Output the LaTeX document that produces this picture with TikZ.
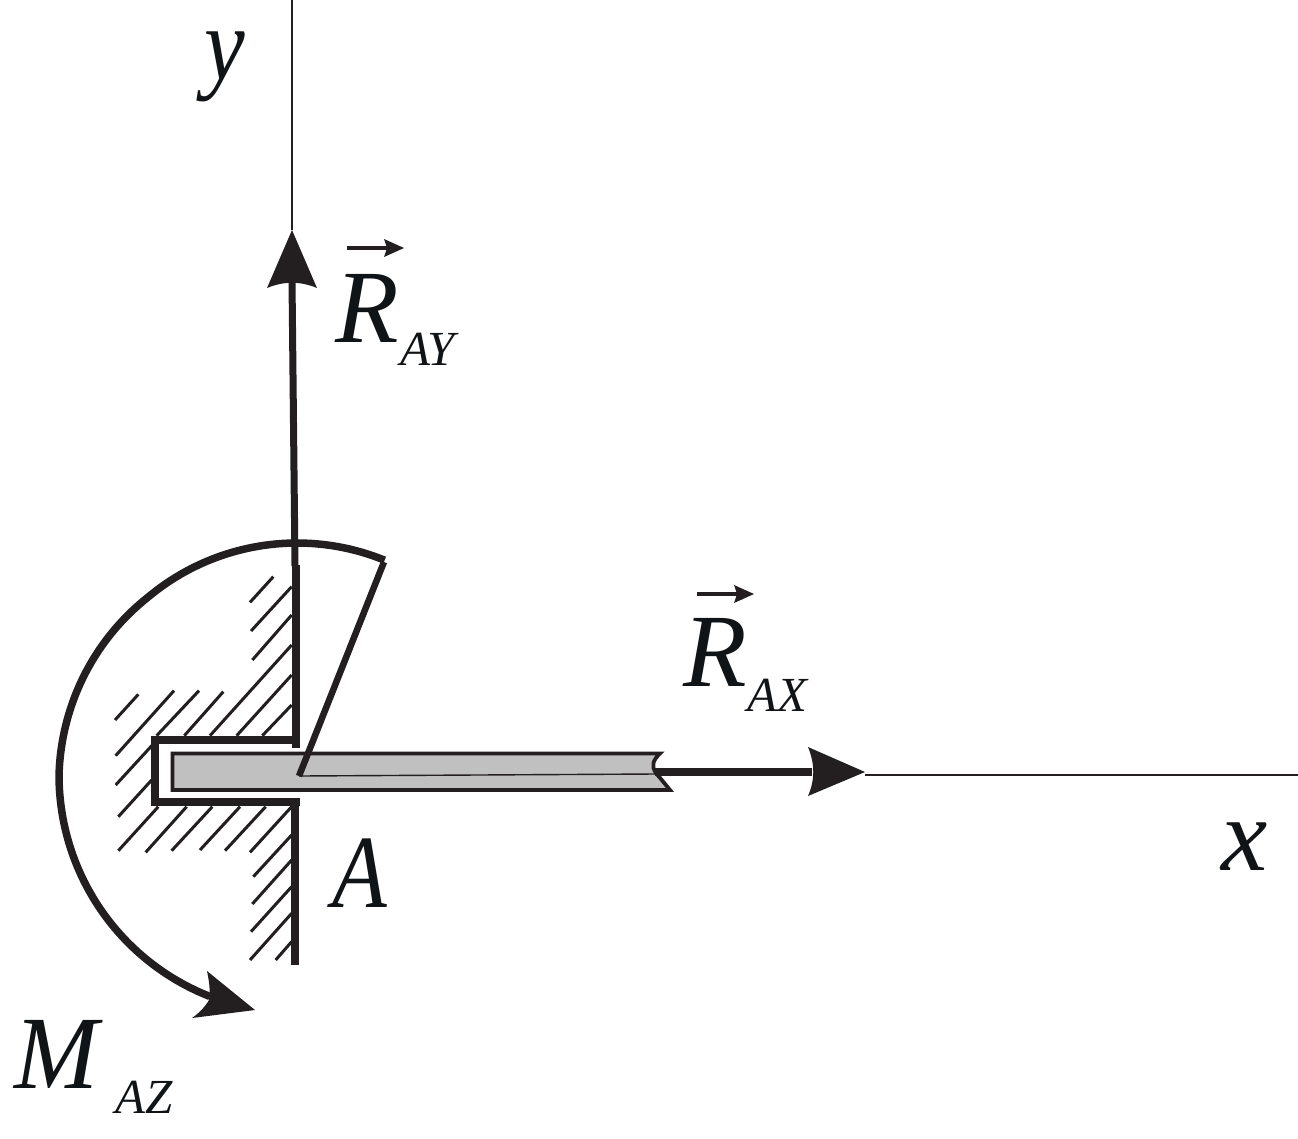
\documentclass[tikz,border=0pt]{standalone}
\usepackage{fontspec}
\setmainfont{Liberation Serif}
\definecolor{ink}{HTML}{231F20}
\definecolor{txt}{HTML}{111416}
\definecolor{barfill}{HTML}{C0C0C0}
\tikzset{
  thinaxis/.style={draw=ink,line width=1.2pt},
  heavy/.style={draw=ink,line width=7pt},
  hatchline/.style={draw=ink,line width=3pt},
  tipfill/.style={fill=ink,draw=none},
  big/.style={inner sep=0pt,anchor=base west,text=txt,font=\fontsize{104}{104}\selectfont\itshape},
  small/.style={inner sep=0pt,anchor=base west,text=txt,font=\fontsize{49}{49}\selectfont\itshape},
}
\begin{document}
\begin{tikzpicture}[x=1pt,y=-1pt]
\useasboundingbox (0,0) rectangle (1298,1138);
\fill[white] (0,0) rectangle (1298,1138);
% coordinates
\coordinate (ytop) at (292,0);
\coordinate (ytip) at (292,230);
\coordinate (ybase) at (292,280);
\coordinate (yfoot) at (295,566);
\coordinate (xend) at (1298,775);
\coordinate (xtip) at (865,772);
\coordinate (xbase) at (812,772);
\coordinate (xfoot) at (655,772);
\coordinate (armA) at (299,776);
\coordinate (armB) at (384,562);
% axes
\draw[thinaxis] (ytop) -- (ytip);
\draw[thinaxis] (xtip |- xend) -- (xend);
% hatching
\foreach \a/\b/\c/\d in {
480/187/550/110, 483/273/605/140, 487/360/605/225, 360/587/605/315,
440/587/605/405, 517/587/605/495, 283/587/400/455, 200/587/327/452,
77/647/252/452, 75/540/145/463, 77/735/190/612, 85/830/185/720,
85/932/205/800, 167/937/290/800, 245/932/367/800, 330/930/450/800,
405/932/527/800, 480/937/605/800, 490/1010/605/885, 487/1092/605/960,
483/1175/605/1040, 480/1260/605/1120, 557/1260/605/1205}
  \draw[hatchline] ({90+\a/3},{540+\b/3}) -- ({90+\c/3},{540+\d/3});
% wall and pocket
\draw[heavy,line width=8pt] (296,565) -- (296,748);
\draw[heavy,line width=7.5pt,line cap=rect] (296,740) -- (155,740) -- (155,802) -- (296,802);
\draw[heavy,line width=8pt] (295,800) -- (295,965);
% bar
\path[fill=barfill,draw=ink,line width=3.8pt]
  (172.5,753.5) -- (660,753.5) .. controls (653,760) and (651,766) .. (656,773)
  -- (670,790) -- (172.5,790) -- cycle;
\draw[ink,line width=1.4pt] (armA) -- (655,774);
% moment arc
\draw[ink,line width=7.5pt] plot[smooth,domain=67.8:248.5,samples=60]
  ({297+(\x<130?232:(\x<180?232+(\x-130)/50*6:238))*cos(\x)},{775-(\x<130?232:(\x<180?232+(\x-130)/50*6:238))*sin(\x)});
\path[tipfill] (255,1010) -- (207,971) .. controls (210,985) and (210,992) .. (209,1000)
  .. controls (205,1007) and (199,1013) .. (192,1018) -- cycle;
% arm
\draw[ink,line width=6.5pt] (armA) -- (armB);
% y force
\draw[heavy] (ybase) -- (yfoot);
\path[tipfill] (ytip) -- (317,288) .. controls (300,281) and (284,281) .. (267,288) -- cycle;
% x force
\draw[heavy,line width=8.5pt] (xfoot) -- (xbase);
\path[tipfill] (xtip) -- (808,796) .. controls (815,780) and (815,764) .. (808,747) -- cycle;
% labels
\node[big,xscale=0.88] (ly) at (204,79) {y};
\node[big] (lx) at (1221,870) {x};
\node[big,xscale=0.86] (la) at (332,907) {A};
\node[big,xscale=0.97] (lm) at (14,1088) {M};
\node[small] (lmz) at (115,1113) {AZ};
\node[big] (lry) at (335,342) {R};
\node[small] (lryz) at (400,365) {AY};
\node[big] (lrx) at (683,686) {R};
\node[small] (lrxz) at (747,711) {AX};
% vector bars
\draw[ink,line width=3.4pt] (347,248) -- (392,248);
\path[tipfill] (404,248) -- (384,239) -- (387,248) -- (384,257) -- cycle;
\draw[ink,line width=3.4pt] (697,594) -- (742,594);
\path[tipfill] (754,594) -- (734,585) -- (737,594) -- (734,603) -- cycle;
\end{tikzpicture}
\end{document}
